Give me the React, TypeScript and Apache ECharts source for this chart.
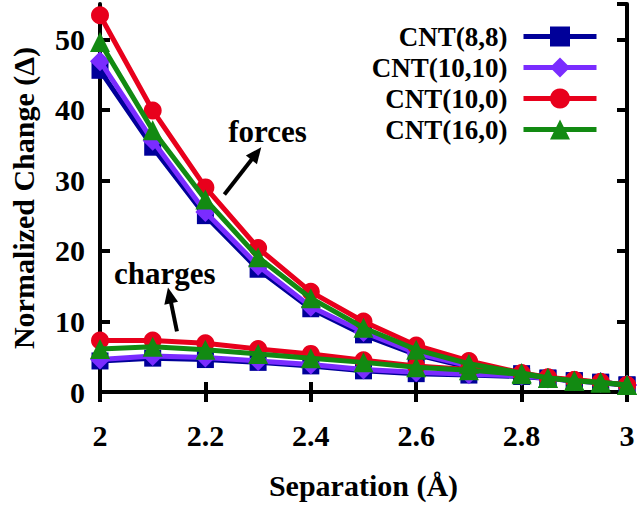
import React, { useEffect, useRef } from "react";
import * as echarts from "echarts";

const separation = [2.0, 2.1, 2.2, 2.3, 2.4, 2.5, 2.6, 2.7, 2.8, 2.85, 2.9, 2.95, 3.0];

const names = ["CNT(8,8)", "CNT(10,10)", "CNT(10,0)", "CNT(16,0)"];
const colors = ["#000099", "#7a2cff", "#e8001c", "#128a12"];
const symbols = ["rect", "diamond", "circle", "triangle"];
const symbolSizes = [17, 20, 18, 20];

const forces88 = [45.6, 34.7, 25.0, 17.4, 11.8, 8.1, 5.3, 3.5, 2.6, 2.0, 1.6, 1.4, 1.0];
const forces1010 = [46.9, 35.6, 25.5, 17.9, 12.1, 8.5, 5.5, 3.7, 2.6, 2.0, 1.6, 1.4, 1.0];
const forces100 = [53.4, 39.9, 29.0, 20.4, 14.2, 10.0, 6.6, 4.4, 2.7, 2.1, 1.7, 1.4, 1.0];
const forces160 = [49.6, 37.1, 27.3, 19.1, 13.3, 9.1, 6.0, 4.0, 2.7, 2.0, 1.6, 1.4, 1.0];

const charges88 = [4.4, 4.8, 4.6, 4.2, 3.7, 3.0, 2.6, 2.4, 2.2, 1.9, 1.6, 1.3, 1.0];
const charges1010 = [4.6, 5.1, 4.9, 4.4, 3.9, 3.2, 2.8, 2.5, 2.3, 1.9, 1.6, 1.3, 1.0];
const charges100 = [7.3, 7.3, 6.9, 6.1, 5.4, 4.5, 3.7, 3.2, 2.6, 2.0, 1.7, 1.4, 1.0];
const charges160 = [6.1, 6.4, 6.0, 5.4, 4.8, 4.2, 3.5, 3.1, 2.5, 2.0, 1.6, 1.3, 1.0];

const forcesSets = [forces88, forces1010, forces100, forces160];
const chargesSets = [charges88, charges1010, charges100, charges160];

const xTicks = { min: 2, max: 3, interval: 0.2 };
const yTicks = { min: 0, max: 55, interval: 10 };

const FONT = "'Liberation Serif', 'Times New Roman', serif";

export default function App() {
  const ref = useRef<HTMLDivElement>(null);
  useEffect(() => {
    if (!ref.current) return;
    const chart = echarts.init(ref.current, undefined, { renderer: "svg" });

    const series: any[] = [];
    for (let k = 0; k < 4; k++) {
      const mk = (vals: number[]) => ({
        type: "line",
        name: names[k],
        data: separation.map((x, i) => [x, vals[i]]),
        symbol: symbols[k],
        symbolSize: symbolSizes[k],
        color: colors[k],
        lineStyle: { width: 5, color: colors[k] },
        itemStyle: { color: colors[k] },
        z: 2 + k,
        silent: true,
      });
      series.push(mk(chargesSets[k]));
      series.push(mk(forcesSets[k]));
    }

    const axisLine = { show: true, lineStyle: { color: "#000", width: 4 } };
    const axisTick = { show: true, inside: true, length: 10, lineStyle: { color: "#000", width: 4 } };
    const labelStyle = { fontFamily: FONT, fontWeight: "bold" as const, fontSize: 30, color: "#000" };

    chart.setOption({
      animation: false,
      backgroundColor: "#fff",
      grid: { left: 98, right: 14, top: 4, bottom: 111 },
      legend: {
        orient: "vertical",
        right: 42,
        top: 23,
        padding: 0,
        align: "right",
        itemWidth: 73,
        itemHeight: 25,
        itemGap: 4,
        data: names,
        selectedMode: false,
        lineStyle: { width: 5 },
        textStyle: {
          fontFamily: FONT,
          fontWeight: "bold",
          fontSize: 27,
          color: "#000",
          lineHeight: 27,
          padding: [0, 11, 0, 0],
        },
      },
      xAxis: [
        {
          type: "value",
          ...xTicks,
          axisLine,
          axisTick,
          splitLine: { show: false },
          axisLabel: { ...labelStyle, margin: 28 },
          name: "Separation (Å)",
          nameLocation: "middle",
          nameGap: 78,
          nameTextStyle: { ...labelStyle, fontSize: 30 },
        },
        {
          type: "value",
          position: "top",
          ...xTicks,
          axisLine,
          axisTick,
          splitLine: { show: false },
          axisLabel: { show: false },
        },
      ],
      yAxis: [
        {
          type: "value",
          ...yTicks,
          axisLine,
          axisTick,
          splitLine: { show: false },
          axisLabel: { ...labelStyle, margin: 15, showMaxLabel: false },
          name: "Normalized Change (Δ)",
          nameLocation: "middle",
          nameGap: 62,
          nameTextStyle: { ...labelStyle, fontSize: 30 },
        },
        {
          type: "value",
          position: "right",
          ...yTicks,
          axisLine,
          axisTick,
          splitLine: { show: false },
          axisLabel: { show: false },
        },
      ],
      series,
    });

    const px = (x: number, y: number) =>
      chart.convertToPixel({ gridIndex: 0 }, [x, y]) as number[];

    const arrow = (from: number[], to: number[]) => {
      const a = px(from[0], from[1]);
      const b = px(to[0], to[1]);
      const dx = b[0] - a[0];
      const dy = b[1] - a[1];
      const len = Math.sqrt(dx * dx + dy * dy);
      const ux = dx / len;
      const uy = dy / len;
      const hl = 16;
      const hw = 7;
      const bx = b[0] - ux * hl;
      const by = b[1] - uy * hl;
      return [
        {
          type: "line",
          shape: { x1: a[0], y1: a[1], x2: bx + ux * 2, y2: by + uy * 2 },
          style: { stroke: "#000", lineWidth: 4 },
          z: 100,
        },
        {
          type: "polygon",
          shape: {
            points: [
              [b[0], b[1]],
              [bx - uy * hw, by + ux * hw],
              [bx + uy * hw, by - ux * hw],
            ],
          },
          style: { fill: "#000" },
          z: 100,
        },
      ];
    };

    const textAt = (s: string, x: number, y: number) => {
      const p = px(x, y);
      return {
        type: "text",
        x: p[0],
        y: p[1],
        z: 100,
        style: {
          text: s,
          fontFamily: FONT,
          fontWeight: "bold",
          fontSize: 31,
          fill: "#000",
          align: "center",
          verticalAlign: "middle",
        },
      };
    };

    chart.setOption({
      graphic: [
        textAt("forces", 2.318, 36.9),
        ...arrow([2.236, 28.0], [2.306, 34.7]),
        textAt("charges", 2.123, 16.8),
        ...arrow([2.146, 8.6], [2.129, 14.8]),
      ],
    });

    return () => chart.dispose();
  }, []);

  return (
    <div
      ref={ref}
      style={{ position: "fixed", left: 0, top: 0, width: 641, height: 505, background: "#fff" }}
    />
  );
}
